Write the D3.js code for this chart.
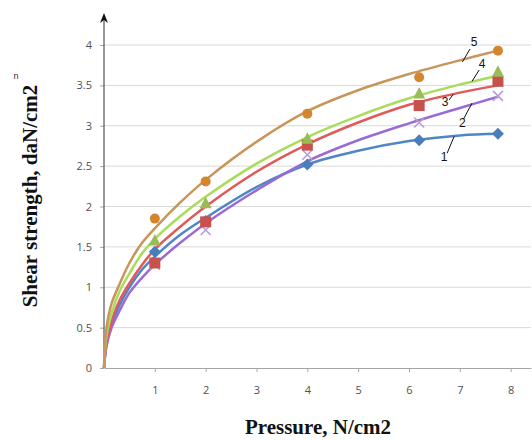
<!DOCTYPE html>
<html><head><meta charset="utf-8">
<script src="https://cdn.jsdelivr.net/npm/d3@7"></script>
<style>body{margin:0;background:#fff}svg{display:block}</style>
</head><body><svg id="c" width="532" height="440"></svg>
<script>
// Measured points (Pressure, N/cm2)
const pointX = [1, 2, 4, 6.2, 7.75];
const s1 = [1.44, 1.82, 2.52, 2.82, 2.90];
const s2 = [1.28, 1.71, 2.64, 3.04, 3.37];
const s3 = [1.30, 1.81, 2.76, 3.25, 3.55];
const s4 = [1.58, 2.04, 2.84, 3.40, 3.67];
const s5 = [1.85, 2.31, 3.15, 3.60, 3.93];
// Trend curves
const curveX = [0, 0.05, 0.15, 0.3, 0.5, 0.75, 1, 1.5, 2, 3, 4, 5, 6, 7, 7.75];
const c1 = [0, 0.30, 0.54, 0.77, 1.00, 1.22, 1.38, 1.65, 1.86, 2.24, 2.52, 2.69, 2.81, 2.88, 2.90];
const c2 = [0, 0.27, 0.50, 0.70, 0.93, 1.12, 1.28, 1.55, 1.79, 2.20, 2.56, 2.82, 3.03, 3.22, 3.36];
const c3 = [0, 0.33, 0.58, 0.83, 1.05, 1.28, 1.47, 1.75, 2.00, 2.43, 2.77, 3.04, 3.26, 3.41, 3.50];
const c4 = [0, 0.40, 0.68, 0.94, 1.17, 1.42, 1.60, 1.88, 2.12, 2.53, 2.86, 3.12, 3.34, 3.51, 3.62];
const c5 = [0, 0.50, 0.80, 1.03, 1.30, 1.55, 1.73, 2.05, 2.33, 2.80, 3.18, 3.44, 3.64, 3.81, 3.93];
const xTicks = [1, 2, 3, 4, 5, 6, 7, 8];
const yTicks = [0, 0.5, 1, 1.5, 2, 2.5, 3, 3.5, 4];
const seriesNames = ["1", "2", "3", "4", "5"];
// label anchor, leader start, leader end (data units)
const labelPos = [[6.69, 2.60], [7.05, 3.02], [6.71, 3.28], [7.44, 3.75], [7.28, 4.03]];
const leaderA = [[6.75, 2.66], [7.07, 3.08], [6.79, 3.32], [7.38, 3.69], [7.20, 3.95]];
const leaderB = [[6.89, 2.87], [7.24, 3.28], [6.87, 3.39], [7.24, 3.55], [7.05, 3.79]];

const series = [
  {pts: s1, fit: c1, line: "#4f86c6", fill: "#4a7ebb", shape: "diamond"},
  {pts: s2, fit: c2, line: "#9a6ad6", fill: "#b59ad6", shape: "x"},
  {pts: s3, fit: c3, line: "#e05a5a", fill: "#c8504d", shape: "square"},
  {pts: s4, fit: c4, line: "#a8dc5a", fill: "#9bbb59", shape: "triangle"},
  {pts: s5, fit: c5, line: "#c8955a", fill: "#d4862e", shape: "circle"}
];

const svg = d3.select("#c");
const x = d3.scaleLinear().domain([0, 8.4]).range([104, 531]);
const y = d3.scaleLinear().domain([0, 4]).range([368, 45]);

// gridlines
svg.append("g").selectAll("line").data(yTicks.filter(d => d > 0)).join("line")
  .attr("x1", x(0)).attr("x2", x(8.4)).attr("y1", d => y(d)).attr("y2", d => y(d))
  .attr("stroke", "#d9d9d9").attr("stroke-width", 1);

// x axis
const xAxis = svg.append("g").attr("transform", `translate(0,${y(0)})`)
  .call(d3.axisBottom(x).tickValues(xTicks).tickSize(4).tickSizeOuter(0).tickPadding(14));
xAxis.select(".domain").attr("stroke", "#a6a6a6");
xAxis.selectAll(".tick line").attr("stroke", "#a6a6a6");
xAxis.selectAll("text").attr("font-family", "Open Sans, sans-serif").attr("font-size", 11).attr("fill", "#505050");

// y axis
const yAxis = svg.append("g").attr("transform", `translate(${x(0)},0)`)
  .call(d3.axisLeft(y).tickValues(yTicks).tickFormat(d3.format("~g")).tickSize(4).tickSizeOuter(0).tickPadding(8));
yAxis.select(".domain").remove();
yAxis.selectAll(".tick line").attr("stroke", "#a6a6a6");
yAxis.selectAll("text").attr("font-family", "Open Sans, sans-serif").attr("font-size", 11).attr("fill", "#505050");
svg.append("line").attr("x1", x(0)).attr("x2", x(0)).attr("y1", y(0)).attr("y2", 20)
  .attr("stroke", "#555").attr("stroke-width", 1.2);
svg.append("path").attr("d", `M${x(0)},13 L${x(0)-4},23 L${x(0)},20 L${x(0)+4},23 Z`).attr("fill", "#111");

// curves
const line = d3.line().x((d, i) => x(curveX[i])).y(d => y(d)).curve(d3.curveCatmullRom.alpha(0.5));
series.forEach(s => {
  svg.append("path").attr("d", line(s.fit)).attr("fill", "none")
    .attr("stroke", s.line).attr("stroke-width", 2.5);
});

// markers
series.forEach(s => {
  const g = svg.append("g");
  s.pts.forEach((v, i) => {
    const cx = x(pointX[i]), cy = y(v);
    if (s.shape === "diamond") {
      g.append("path").attr("d", `M${cx},${cy-6} L${cx+6},${cy} L${cx},${cy+6} L${cx-6},${cy} Z`).attr("fill", s.fill);
    } else if (s.shape === "square") {
      g.append("rect").attr("x", cx - 5.5).attr("y", cy - 5.5).attr("width", 11).attr("height", 11).attr("fill", s.fill);
    } else if (s.shape === "triangle") {
      g.append("path").attr("d", `M${cx},${cy-6.5} L${cx+6},${cy+5} L${cx-6},${cy+5} Z`).attr("fill", s.fill);
    } else if (s.shape === "circle") {
      g.append("circle").attr("cx", cx).attr("cy", cy).attr("r", 5).attr("fill", s.fill);
    } else {
      g.append("path").attr("d", `M${cx-5},${cy-5} L${cx+5},${cy+5} M${cx+5},${cy-5} L${cx-5},${cy+5}`)
        .attr("stroke", s.fill).attr("stroke-width", 1.5);
    }
  });
});

// series labels with leader lines
seriesNames.forEach((n, i) => {
  svg.append("line").attr("x1", x(leaderA[i][0])).attr("y1", y(leaderA[i][1]))
    .attr("x2", x(leaderB[i][0])).attr("y2", y(leaderB[i][1])).attr("stroke", "#111").attr("stroke-width", 1);
  svg.append("text").attr("x", x(labelPos[i][0])).attr("y", y(labelPos[i][1]))
    .attr("text-anchor", "middle").attr("dominant-baseline", "middle")
    .attr("font-family", "Liberation Sans, Arial, sans-serif").attr("font-size", 12).attr("fill", "#111").text(n);
});

// axis titles
svg.append("text").attr("transform", "translate(37,196) rotate(-90)").attr("text-anchor", "middle")
  .attr("font-family", "Liberation Serif, Times New Roman, serif").attr("font-weight", "bold")
  .attr("font-size", 21).attr("fill", "#111").text("Shear strength, daN/cm2");
svg.append("text").attr("x", 16).attr("y", 79).attr("text-anchor", "middle")
  .attr("font-family", "Liberation Sans, sans-serif").attr("font-size", 9).attr("fill", "#333").text("n");
svg.append("text").attr("x", 318).attr("y", 434).attr("text-anchor", "middle")
  .attr("font-family", "Liberation Serif, Times New Roman, serif").attr("font-weight", "bold")
  .attr("font-size", 21).attr("fill", "#111").text("Pressure, N/cm2");
</script></body></html>
